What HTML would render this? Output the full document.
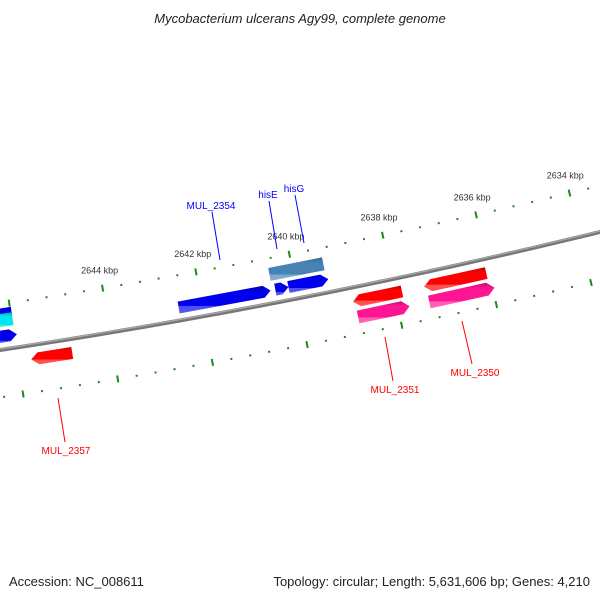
<!DOCTYPE html>
<html><head><meta charset="utf-8"><style>
html,body{margin:0;padding:0;background:#fff;}
svg{display:block;font-family:"Liberation Sans","DejaVu Sans",sans-serif;}
</style></head><body>
<svg id="chart" width="600" height="600" viewBox="0 0 600 600">
<defs>
<linearGradient id="gbar" x1="0" y1="0" x2="0" y2="1"><stop offset="0" stop-color="#000" stop-opacity="0.25"/><stop offset="0.22" stop-color="#000" stop-opacity="0"/><stop offset="0.72" stop-color="#fff" stop-opacity="0"/><stop offset="0.74" stop-color="#fff" stop-opacity="0.3"/><stop offset="1" stop-color="#fff" stop-opacity="0.35"/></linearGradient>
</defs>
<text x="300" y="23" text-anchor="middle" font-size="13" font-style="italic" fill="#222">Mycobacterium ulcerans Agy99, complete genome</text>
<g id="ticks"></g>
<path id="backbone" fill="none" stroke="#777" stroke-width="4"/>
<path id="backbone2" fill="none" stroke="#aaa" stroke-width="1.2"/>
<g id="genes"></g>
<g>
<line x1="212" y1="212" x2="220" y2="260" stroke="#00f"/>
<text x="211" y="209" text-anchor="middle" font-size="10" fill="#00f">MUL_2354</text>
<line x1="269" y1="201" x2="277" y2="249" stroke="#00f"/>
<text x="268" y="198" text-anchor="middle" font-size="10" fill="#00f">hisE</text>
<line x1="295" y1="195" x2="304" y2="243" stroke="#00f"/>
<text x="294" y="192" text-anchor="middle" font-size="10" fill="#00f">hisG</text>
<line x1="385" y1="337" x2="393" y2="381" stroke="#f00"/>
<text x="395" y="393" text-anchor="middle" font-size="10" fill="#f00">MUL_2351</text>
<line x1="462" y1="321" x2="472" y2="364" stroke="#f00"/>
<text x="475" y="376" text-anchor="middle" font-size="10" fill="#f00">MUL_2350</text>
<line x1="58" y1="398" x2="65" y2="442" stroke="#f00"/>
<text x="66" y="454" text-anchor="middle" font-size="10" fill="#f00">MUL_2357</text>
</g>
<text x="9" y="586" font-size="13" fill="#222">Accession: NC_008611</text>
<text x="590" y="586" text-anchor="end" font-size="13" fill="#222">Topology: circular; Length: 5,631,606 bp; Genes: 4,210</text>
</svg>
<script>
// data
const majorTicks = [2644, 2642, 2640, 2638, 2636, 2634];
const majorLabels = ["2644 kbp","2642 kbp","2640 kbp","2638 kbp","2636 kbp","2634 kbp"];
const geneNames = ["left-blue-top","left-cyan","left-blue","MUL_2354","hisE","hisG","MUL_2354-domain","MUL_2357","MUL_2351","MUL_2351-b","MUL_2350","MUL_2350-b"];
const geneStart = [2646.6, 2646.6, 2646.6, 2642.49, 2640.43, 2640.15, 2640.49, 2645.72, 2638.89, 2638.85, 2637.38, 2637.34];
const geneEnd   = [2645.98, 2645.98, 2645.94, 2640.53, 2640.15, 2639.30, 2639.34, 2644.85, 2637.85, 2637.76, 2636.06, 2635.96];
const geneStrand = [0, 0, 1, 1, 1, 1, 0, -1, -1, 1, -1, 1];
const geneTrack  = [3, 2, 1, 1, 1, 1, 2, -1, -1, -2, -1, -2];
const geneColor  = ["#0000ee","#00e5ee","#0000ee","#0000ee","#0000ee","#0000ee","#4682b4","#ff0000","#ff0000","#ff1493","#ff0000","#ff1493"];

// axis functions
const NS="http://www.w3.org/2000/svg";
function byX(x){return 350-0.15*x-7.78e-5*x*x;}
function slope(x){return -0.15-2*7.78e-5*x;}
function xOf(kbp){return 110+(2644-kbp)*47;}
function pt(kbp,d){const x=xOf(kbp),s=slope(x),n=Math.sqrt(1+s*s);return [x+d*(-s)/n, byX(x)+d/n];}
const trackD={1:-13,2:-29,3:-37,"-1":14,"-2":30};
const trackH={1:12,2:13,3:8,"-1":12,"-2":13};

// backbone
let p="";for(let x=-10;x<=610;x+=10){p+=(x===-10?"M":"L")+x+","+byX(x).toFixed(2)+" ";}
document.getElementById('backbone').setAttribute('d',p);
document.getElementById('backbone2').setAttribute('d',p);
document.getElementById('backbone2').setAttribute('transform','translate(0,-1)');

// ticks
const tg=document.getElementById('ticks');
[-45,47].forEach(function(d){
  for(let i=0;i<=35;i++){
    const k=2646.8-i*0.4; const kr=Math.round(k*10)/10;
    const major=Math.abs(kr/2-Math.round(kr/2))<1e-6;
    const a=pt(kr,d-(major?3.5:1)), b=pt(kr,d+(major?3.5:1));
    const l=document.createElementNS(NS,'line');
    l.setAttribute('x1',a[0]);l.setAttribute('y1',a[1]);l.setAttribute('x2',b[0]);l.setAttribute('y2',b[1]);
    l.setAttribute('stroke','#1a8a1a');l.setAttribute('stroke-width','2');
    
    
    tg.appendChild(l);
  }
});
majorTicks.forEach(function(k,i){
  const q=pt(k,-63);
  const t=document.createElementNS(NS,'text');
  t.setAttribute('x',q[0]);t.setAttribute('y',q[1]+3);t.setAttribute('text-anchor','middle');
  t.setAttribute('font-size','9');t.setAttribute('fill','#333');
  t.textContent=majorLabels[i];
  
  
  tg.appendChild(t);
});

// genes
const gg=document.getElementById('genes');
geneNames.forEach(function(nm,i){
  const d=trackD[geneTrack[i]],h=trackH[geneTrack[i]];
  let s=geneStart[i],e=geneEnd[i];
  const st=geneStrand[i]; const ah=0.15;
  let pts=[];
  if(st===1){
    pts=[pt(s,d-h/2),pt(e+ah,d-h/2),pt(e,d),pt(e+ah,d+h/2),pt(s,d+h/2)];
  } else if(st===-1){
    pts=[pt(s-ah,d-h/2),pt(e,d-h/2),pt(e,d+h/2),pt(s-ah,d+h/2),pt(s,d)];
  } else {
    pts=[pt(s,d-h/2),pt(e,d-h/2),pt(e,d+h/2),pt(s,d+h/2)];
  }
  const ps=pts.map(function(q){return q[0].toFixed(1)+","+q[1].toFixed(1);}).join(" ");
  const g=document.createElementNS(NS,'g');
  
  
  const a=document.createElementNS(NS,'polygon');
  a.setAttribute('points',ps);a.setAttribute('fill',geneColor[i]);
  
  
  const b=document.createElementNS(NS,'polygon');
  b.setAttribute('points',ps);b.setAttribute('fill','url(#gbar)');
  
  
  g.appendChild(a);g.appendChild(b);gg.appendChild(g);
});
</script>
</body></html>
